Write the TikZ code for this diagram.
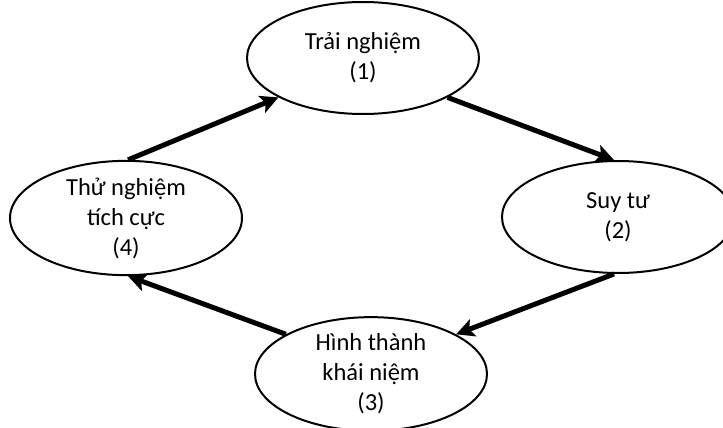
\documentclass[tikz,border=0pt]{standalone}
\usepackage{fontspec}
\setmainfont{Carlito}
\usetikzlibrary{shapes.geometric,arrows.meta}
\begin{document}
\begin{tikzpicture}[x=1pt,y=-1pt,
  stage/.style={ellipse,draw,line width=2pt,minimum width=232pt,minimum height=112pt,inner sep=0pt,align=center,font=\fontsize{24.5}{30}\selectfont},
  flow/.style={line width=5pt,-{Stealth[length=18pt,width=18pt,inset=4pt]}}]
\useasboundingbox (0,0) rectangle (723,428);
\node[stage] (exp) at (363,58) {Trải nghiệm\\(1)};
\node[stage] (refl) at (618,217) {Suy tư\\(2)};
\node[stage] (conc) at (371,374) {Hình thành\\khái niệm\\(3)};
\node[stage] (act) at (126,218) {Thử nghiệm\\tích cực\\(4)};
\draw[flow] (act.88) -- (exp.205); \draw[flow] (exp.335) -- (refl.94);
\draw[flow] (refl.266) -- (conc.25); \draw[flow] (conc.155) -- (act.272);
\end{tikzpicture}
\end{document}
